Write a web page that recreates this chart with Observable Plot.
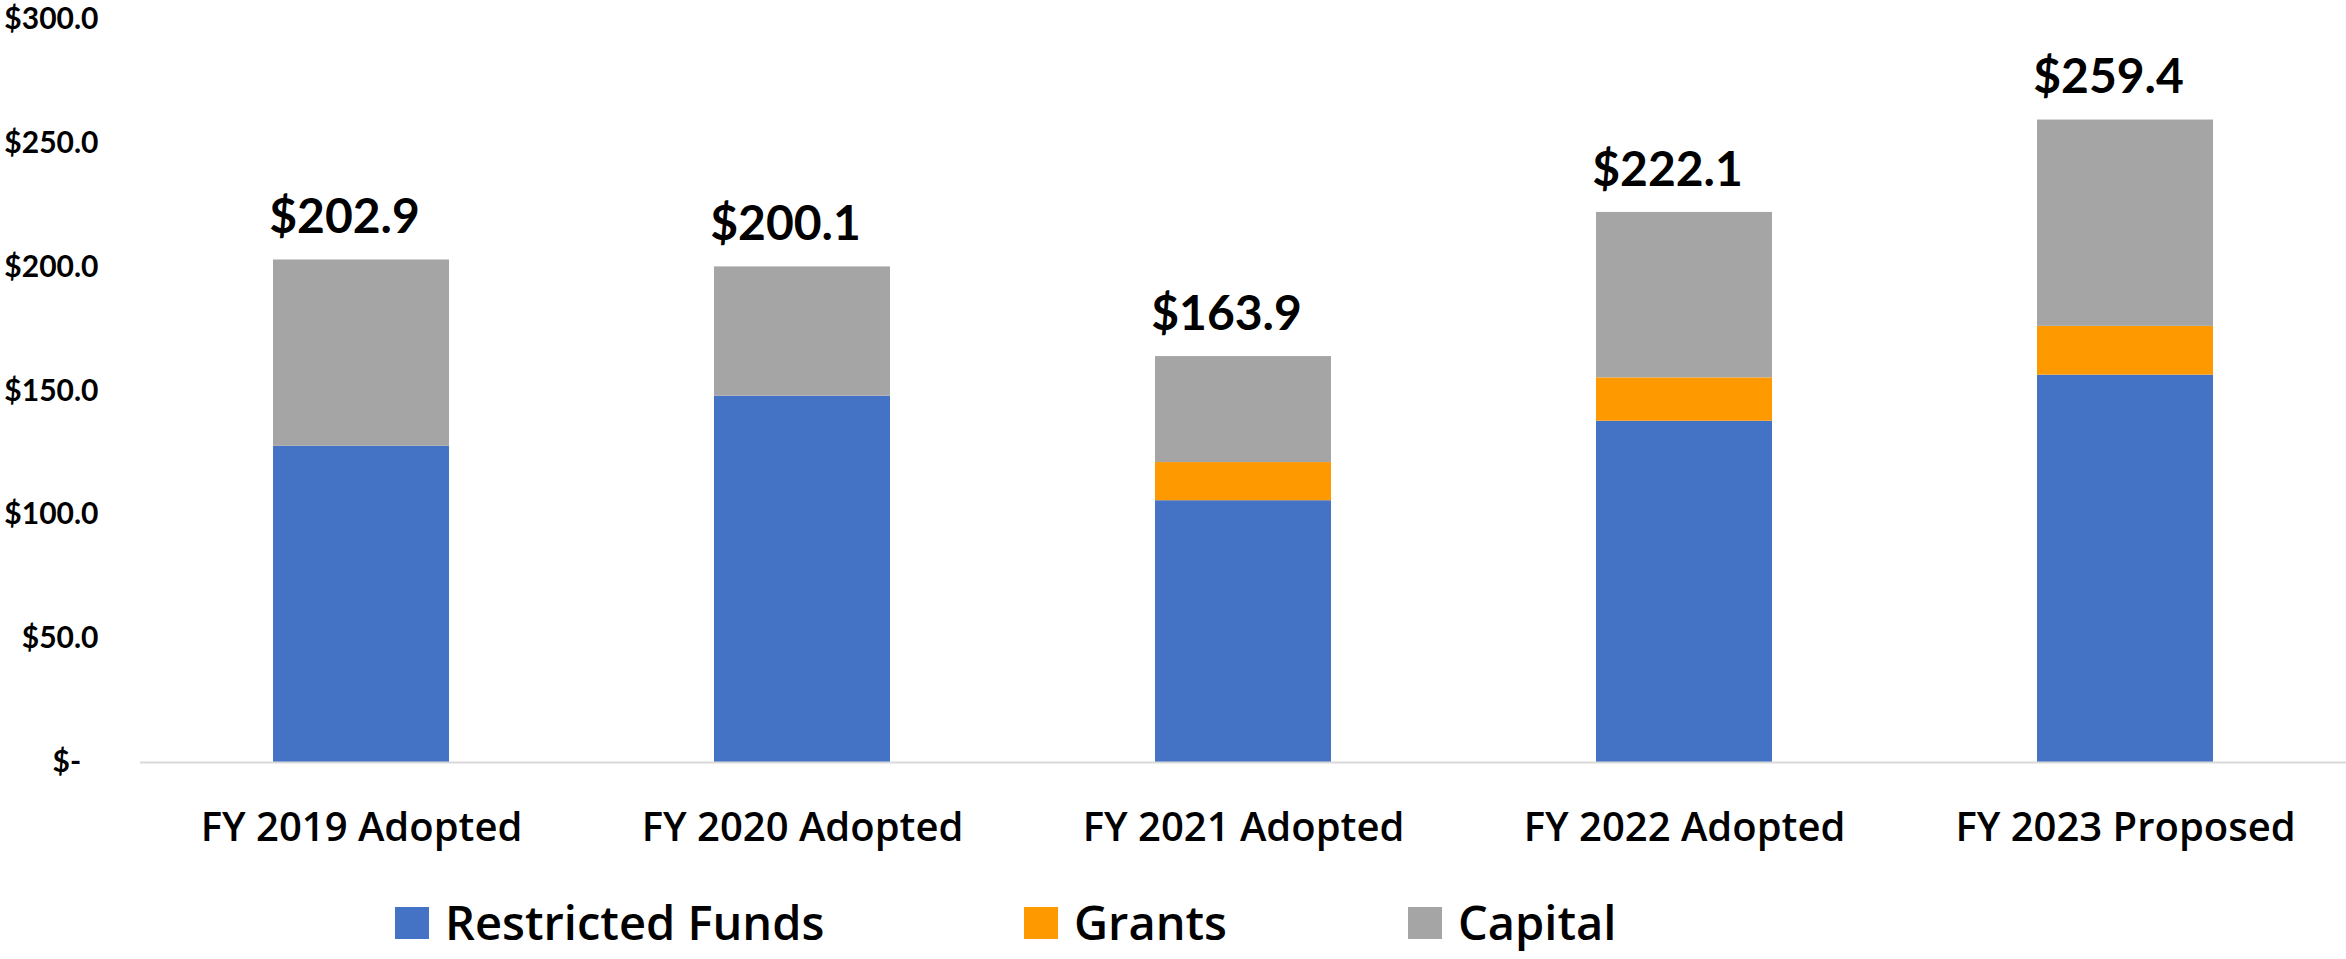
<!DOCTYPE html>
<html>
<head>
<meta charset="utf-8">
<script src="https://cdn.jsdelivr.net/npm/d3@7"></script>
<script src="https://cdn.jsdelivr.net/npm/@observablehq/plot@0.6"></script>
<style>
  html, body { margin: 0; padding: 0; background: #fff; }
  #wrap { position: relative; width: 2346px; height: 959px; overflow: hidden; }
  #legend { position: absolute; left: 395px; top: 899px; display: flex; font-family: "Open Sans", sans-serif; font-size: 47px; font-weight: 600; line-height: 1; color: #000; }
  .item { display: flex; align-items: center; }
  .sw { width: 34px; height: 32px; margin-right: 16px; }
</style>
</head>
<body>
<div id="wrap">
  <div id="chart"></div>
  <div id="legend"></div>
</div>
<script>
const categories = ["FY 2019 Adopted", "FY 2020 Adopted", "FY 2021 Adopted", "FY 2022 Adopted", "FY 2023 Proposed"];
const seriesNames = ["Restricted Funds", "Grants", "Capital"];
const seriesColors = ["#4472C4", "#FF9900", "#A5A5A5"];
const restricted = [127.7, 147.9, 105.7, 137.8, 156.4];
const grants = [0, 0, 15.4, 17.5, 19.7];
const capital = [75.2, 52.2, 42.8, 66.8, 83.3];
const totals = [202.9, 200.1, 163.9, 222.1, 259.4];
const yTicks = [0, 50, 100, 150, 200, 250, 300];

const seriesValues = [restricted, grants, capital];
const data = [];
seriesNames.forEach((s, si) => {
  categories.forEach((c, ci) => {
    data.push({category: c, series: s, value: seriesValues[si][ci]});
  });
});
const totalData = categories.map((c, i) => ({category: c, total: totals[i]}));

const chart = Plot.plot({
  width: 2346,
  height: 870,
  marginLeft: 140,
  marginRight: 0,
  marginTop: 19,
  marginBottom: 108,
  style: {background: "#fff"},
  x: {domain: categories, paddingInner: 0.6, paddingOuter: 0.3, label: null},
  y: {domain: [0, 300], label: null},
  color: {domain: seriesNames, range: seriesColors},
  marks: [
    Plot.barY(data, {x: "category", y: "value", fill: "series", order: seriesNames}),
    Plot.ruleY([0], {stroke: "#d9d9d9", strokeWidth: 2}),
    Plot.axisY({
      ticks: yTicks,
      tickSize: 0,
      tickPadding: 42,
      tickFormat: d => d === 0 ? "$-\u2007" : "$" + d.toFixed(1),
      fontSize: 30,
      fontWeight: 700,
      fontFamily: "Lato, sans-serif",
      fill: "#000",
      label: null
    }),
    Plot.axisX({
      tickSize: 0,
      tickPadding: 50,
      fontSize: 40,
      fontWeight: 600,
      fontFamily: "'Open Sans', sans-serif",
      fill: "#000",
      label: null
    }),
    Plot.text(totalData, {
      x: "category",
      y: "total",
      text: d => "$" + d.total.toFixed(1),
      dx: -17,
      dy: -42,
      fontSize: 48,
      fontWeight: 700,
      fontFamily: "Lato, sans-serif",
      fill: "#000"
    })
  ]
});
document.getElementById("chart").appendChild(chart);

const legend = document.getElementById("legend");
const itemWidths = [629, 384, null];
seriesNames.forEach((s, i) => {
  const item = document.createElement("div");
  item.className = "item";
  if (itemWidths[i]) item.style.width = itemWidths[i] + "px";
  const sw = document.createElement("div");
  sw.className = "sw";
  sw.style.background = seriesColors[i];
  const label = document.createElement("span");
  label.textContent = s;
  item.appendChild(sw);
  item.appendChild(label);
  legend.appendChild(item);
});
</script>
</body>
</html>
